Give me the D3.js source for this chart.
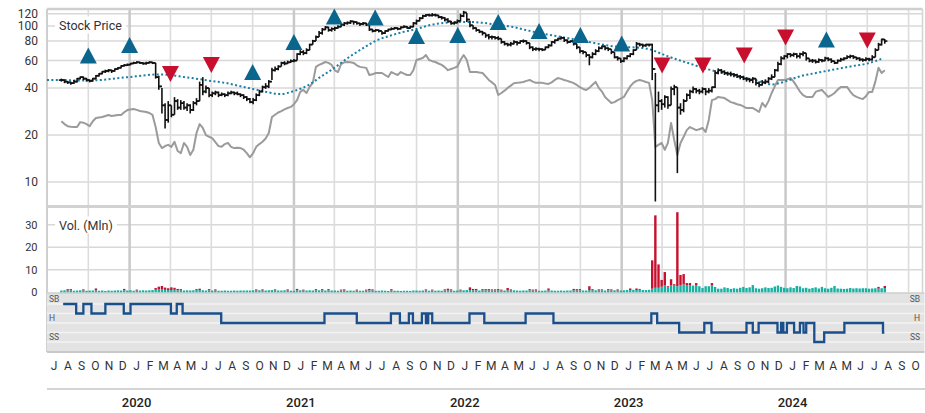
<!DOCTYPE html>
<html><head><meta charset="utf-8">
<script src="https://cdn.jsdelivr.net/npm/d3@7"></script>
<style>
body{margin:0;background:#fff;}
svg{display:block;font-family:Roboto,"Liberation Sans",sans-serif;}
</style></head><body>
<svg id="c" width="925" height="413"></svg>
<script>
// ---------------- DATA ----------------
const firstWeek = "2019-08-02"; // weekly bars, one every 7 days
const closeP = [
45,44,43.5,43,44,46,47,46,45,44.5,
46,48,49.5,51,51.5,52,51.5,53,54,55.5,
56,56.5,57.5,58,58.5,58,57.5,58,58.5,58,
47,41,31,25,31,27,33,30,32,30,
31,29,32,33,42,38,40,36,37,37.5,
36,36.5,36,37,37.5,37,36.5,36,35,34,
32.5,33.5,36,38,40.5,41,44,52,53,55,
58,57.5,58.5,59.5,60,66,68,67,70,76,
80,85,90,95,98,94,96,97,99,102,
104,105,107,106,104,103,104,102,95,93,
94,93,90,93,95,96,97,96,98,99,
97,99,104,108,112,116,118,117,118,117,
114,113,110,107,104,105,108,116,122,110,
101,97,94,92,90,87,85,85,84,83,
79,77,76,77,79,78,80,80,78,73,
71,71.5,71,70.5,73,75,79,81,83,84,
81,79,80,77,73,69,68,65,63,66,
69,72,74,72,71,68,63,62,59.5,62,
64,66,70,77,76,75,76,76,53,31,
33,31.5,35,31,39.5,40.5,30,29,33,36,
38,39.5,38.5,38,39.5,38,38.5,40.5,50,52,
51,50,49.5,49,48.5,47.5,47,46,45.5,45,
46,43,42,43.5,44,46,47,52,57,62,
64,66,65,66,64,66,67,62,60,60,
59,60.5,60,62,61,59.5,58,60,61,62,
63.5,64,63,62,61,60.5,61.5,61,63,70,
76,82,80];
const highP = [
46,45.5,44.5,44,45,46.5,47.5,47.5,46.5,45.5,
46.5,48.5,50,51.5,52.5,53,52.5,53.5,54.5,56,
57,57.5,58,59,59.5,59,58.5,59,59.5,59,
58,48,40,32,33,31,35,34,33.5,33,
32,31.5,33,34.5,44,47,41.5,40,38,38.5,
38,37.5,37,38,38.5,38,38,37,36.5,35.5,
34.5,34.5,37,39,41.5,43,45,54,55,56,
59,59.5,60,61,61.5,67,70,70,72,77,
81.5,87,93,97,100,99,98,99,101,103,
106,107,109,108,107,105,106,105,103,96,
95.5,95,93,94,96,98,98.5,98,99.5,101,
100,100.5,106,110,114,118,119.5,120,121,120,
118,116,114,112,108,107,110,120,125,121,
108,101,98,95,93,90,89,87,86,86,
83,80,78,79,81,80,81,82,81,78,
74,73,72.5,72,74,76.5,80,82,84,86,
85,82,81,80,77,73,70,68,66,68,
71,74,75,75,73,71,68,64,62,63,
65,67,71,79,78,77,77,77,77,50,
38,34,36,35.5,41,42,40.5,32,34,37,
39,41,40,39.5,40.5,40,40,41,52,53.5,
53,52,51,51,50,49.5,48.5,48,47,46.5,
47,46,44,45,45.5,47,49,53,59,64,
65,67,67,67.5,67,67.5,69,67,62,61.5,
61,62,61.5,63.5,63,62,60,61,62.5,63,
65,65.5,65,63.5,63,62,63,62.5,65,72,
78,83,82.5];
const lowP = [
44,43,42.5,42,42.5,43.5,45.5,45,44,43.5,
44,45.5,47.5,49,50,50.5,50,51,52.5,53.5,
55,55.5,56,57,57.5,57,56.5,56.5,57.5,57,
46,39,27.5,22,24,26,27,29,29,29,
28.5,27.5,28.5,31,33,36,37,35,35,36,
35,35.5,35,35.5,36.5,36,36,35,34,33,
32,31.5,33,35.5,37.5,39.5,40,45,51,52,
55,56,57,58,58.5,60,65,65,66,70,
76,80,85,88,94,92,92,93,96,98,
100,102,103,102,102,100,101,100,93,91,
92,91,88,89,92,94,95,94,95,97,
96,96,98,102,107,111,114,115,115,115,
112,110,107,105,102,102,104,107,114,106,
98,95,92,90,87,84,82,82,82,81,
77,75,74,74,76,75,77,78,76,71,
69,69.5,69,69,70,72,74,77,80,82,
79,77,78,75,71,67,66,63,56,62,
65,68,71,70,69,66,62,60,58,58.5,
61,63,65,70,74,73,73.5,74,45,7.5,
28,29,30,29.5,31,36,11.4,27,28,33,
34,37,37,36.5,37,36,37,37.5,40,49,
49.5,48.5,48,47.5,47,46.5,45.5,45,44,43.5,
43,41.5,40.5,41.5,42.5,43,45,47,51,56,
61,62,63,63.5,62,62,64,60,58.5,58,
57.5,58,58.5,59.5,59.5,58,57,57.5,59,60,
61.5,62,61.5,60.5,59.5,59,59.5,59.5,60,63,
70,75,77];
const relativeLine = [
24.5,23.5,22.8,22.6,22.5,22.5,24.2,24,23.5,22.8,
24.5,25.7,25.9,26.1,26.5,26.9,26.5,26.7,26.9,26.9,
28,28.9,29.2,29.4,29,28.5,28.3,28.1,27.7,26.9,
22.5,17.8,16.5,17,17.3,16.8,18.1,15.8,15.3,17.8,
16.8,14.9,16.1,20.6,23.5,22.2,20,19.5,19.1,18,
17,16.8,17.5,17.8,16.8,16.5,16.6,16.5,16.1,15.3,
14.4,15.3,16.8,17.5,18.1,19,20.6,26.1,27,27.9,
28.5,29.2,29.8,30.3,31.5,33.5,37.8,38.9,37.2,40.7,
43.2,54.7,56.3,57.5,58.8,58,56.3,52,50.7,57,
58.5,58.8,58.5,58,56,54.7,54.3,53.9,48.5,49,
50,50,50,48.5,47.1,50.7,49.5,48.5,50.7,49.5,
48.5,48.5,52.1,60.5,61.5,62.4,65.2,60.5,59.5,58.8,
57.5,56.3,54.5,52.1,53,53.9,55,60.5,65.2,60.5,
50.7,50.7,50.7,50.3,50,47.5,45.1,43.5,41.9,36.1,
37.2,38.5,40.1,41.5,43,43.2,43.5,43.8,44.5,45.1,
44,43.2,43.2,43.2,42.8,42.5,43.5,45.1,46.4,45.8,
45.1,44.5,43.8,43,41.9,40.5,39.5,38.9,40.1,42,
43.8,40.1,38,35.1,33.5,32.1,32.5,33.5,34.2,35.1,
38,41,43.2,44.5,45.1,44.5,43.8,43.2,33.5,16.8,
17.3,17.8,16.1,17.8,23.9,18.6,14.9,17.8,19.5,21.5,
22.5,22,21.5,21.8,22.2,20.9,25,33.5,34,35.1,
34.8,34.5,33.5,32.5,32.1,31.5,31.2,30.5,29.8,29.8,
29.8,29,28.1,32.1,30.3,33,37.2,41,45.1,45.1,
45.1,45.5,46.4,44,41,38,36,35.1,35.1,35.1,
37.8,38.5,38.9,37,35.1,36,37.2,39,40.7,40.7,
40.7,38,36,35.1,34.5,34,35.5,37.8,37.8,44,
54,50,52];
const volumeBase = [
0.8,0.9,0.8,0.9,0.7,0.8,0.9,0.8,0.7,0.8,
0.8,0.9,0.7,0.8,0.6,0.8,0.7,0.8,0.9,0.8,
0.9,0.8,0.9,0.7,0.8,0.8,0.9,0.8,0.9,1.0,
1.1,1.2,1.2,1.1,1.0,1.0,1.1,0.9,0.9,0.8,
0.9,0.8,0.9,1.0,1.0,0.9,0.8,0.9,0.8,0.8,
0.7,0.7,0.8,0.7,0.7,0.8,0.7,0.8,0.8,0.8,
0.8,0.9,0.8,0.9,0.8,0.8,0.9,1.0,0.9,0.8,
0.8,0.9,0.8,0.7,0.7,0.9,0.9,0.8,0.8,0.9,
0.8,0.9,0.9,0.9,0.8,0.9,0.8,0.8,0.7,0.8,
0.8,0.7,0.8,0.7,0.8,0.7,0.7,0.8,0.9,0.8,
0.7,0.7,0.8,0.7,0.6,0.8,0.7,0.7,0.6,0.7,
0.7,0.6,0.8,0.8,0.7,0.8,0.8,0.7,0.8,0.7,
0.8,0.7,0.8,0.9,0.8,0.7,0.8,0.8,0.9,1.0,
1.0,0.9,0.9,0.8,0.9,0.9,0.8,0.9,0.8,0.9,
0.8,0.8,0.9,0.8,0.9,0.8,0.7,0.8,0.8,0.9,
0.8,0.8,0.7,0.7,0.8,0.8,0.8,0.7,0.7,0.8,
0.7,0.8,0.8,0.9,0.8,0.9,0.8,0.8,1.0,0.9,
0.9,0.8,0.9,0.8,0.9,0.8,0.9,0.8,0.8,0.9,
1.0,1.0,1.1,1.0,1.1,1.0,1.0,1.1,1.6,2.0,
2.0,2.5,3.0,2.3,3.0,3.0,2.7,3.2,3.5,3.2,
3.2,3.0,3.2,2.7,1.9,2.7,2.7,3.2,2.4,1.6,
1.6,2.2,1.9,1.5,1.8,1.6,2.0,2.4,1.9,2.2,
3.2,1.8,1.6,1.8,2.2,1.9,2.0,2.6,3.0,2.4,
2.0,1.8,2.2,1.9,2.8,2.6,1.8,2.0,1.6,1.9,
2.2,1.7,2.4,1.8,1.6,2.0,2.8,1.7,1.6,1.5,
1.6,1.9,1.7,1.8,1.7,1.8,1.8,1.6,1.7,1.8,
1.6,1.8,1.9];
const volumeExtra = [
0,0,0.6,0.5,0,0,0,0.5,0,0,
0,0.8,0,0,0,0,0,0,0,0,
0.6,0,0,0,0.4,0,0,0,0,0,
0.8,1.3,1.6,1.0,0.8,1.2,0.9,0.6,0.5,0,
0,0,0,0.4,0.6,0,0,0.5,0,0.5,
0,0,0,0,0,0,0,0,0,0,
0,0,0.5,0,0.5,0,0,0,0.4,0,
0,0,0.5,0,0,0.6,0,0.4,0,0,
0,0.5,0,0.5,0,0.5,0,0,0,0.4,
0.5,0,0,0,0.4,0,0,0.4,0.6,0.5,
0,0,0,0,0,0.6,0,0,0,0,
0,0,0,0,0,0,0.5,0,0.4,0,
0,0,0.5,0.7,0.5,0,0,0.4,0,0,
1.2,0.6,0.6,0,0.5,0.5,0.6,0.4,0.5,0.5,
0.4,0,1.0,0.5,0,0,0,0,0,0.5,
0.4,0.5,0,0,0,0.9,0,0,0,0,
0,0,0,0.6,0.6,0.5,0,0,1.7,0.5,
0,0.5,0.4,0,0.5,0.5,0,0.5,0,0,
0,0.7,0,0.7,0.4,0,0,0,12.6,32.2,
10.4,3.0,6.0,0.4,2.8,0.6,32.9,4.5,4.6,0.9,
0.9,0,0.9,0,0,0,0,0.9,0,0,
0,0,0,0,0,0,0,0,0,0,
0,0,0,0,0,0,0,0,0,0,
0,0,0,0,0,0,0,0,0,0,
0,0,0,0,0,0,0,0,0,0,
0,0,0,0,0,0,0,0,0,0,
0.8,0,0.9];
// moving average, read at each month start from 2019-07
const maStart = "2019-07-01";
const movingAvg = [
45.1,45.1,44.8,44.8,45.1,46.2,
47.1,48.2,48.9,48.5,47.1,45.8,44.4,43.2,41.3,39.5,37.8,36.6,
38.3,41.6,47.1,53.9,62.4,71.2,80.1,86.3,91.5,95.7,101.5,104.5,
106.1,106,104.5,101.5,99,94.3,90.2,87,83.8,80.8,77.8,75,
73.3,72.8,71.3,66.1,61.4,57.5,53.9,51.1,48.9,46.7,44.4,42.2,
44.2,47.5,49.5,51.5,53.5,55.5,57.5,61.4];
// quarterly signals
const signalDates = ["2019-10-01","2020-01-01","2020-04-01","2020-07-01","2020-10-01","2021-01-01","2021-04-01","2021-07-01","2021-10-01","2022-01-01","2022-04-01","2022-07-01","2022-10-01","2023-01-01","2023-04-01","2023-07-01","2023-10-01","2024-01-01","2024-04-01","2024-07-01"];
const signalDir = ["up","up","down","down","up","up","up","up","up","up","up","up","up","up","down","down","down","down","up","down"];
const signalLevel = [64.7,75.5,49.2,56.3,50.7,78.9,115,113.4,86.3,87.5,106.1,92.9,87.5,77.3,55.8,55.8,64.7,84.3,81.8,80.7];
// rating history (1=SB,2=B,3=H,4=S,5=SS)
const ratingDates = ["2019-08-06","2019-09-04","2019-09-20","2019-10-08","2019-11-08","2019-12-19","2020-01-03","2020-04-02","2020-04-15","2020-04-28","2020-07-23","2021-03-10","2021-05-21","2021-08-05","2021-08-25","2021-09-14","2021-09-23","2021-10-13","2021-10-22","2021-10-27","2021-11-05","2022-01-27","2022-03-01","2022-06-01","2022-08-02","2023-03-08","2023-03-21","2023-05-09","2023-07-04","2023-07-20","2023-10-06","2023-10-20","2023-11-02","2023-12-14","2023-12-22","2023-12-27","2024-01-04","2024-01-20","2024-02-02","2024-02-10","2024-02-16","2024-03-05","2024-03-27","2024-05-11","2024-08-05","2024-08-08"];
const ratingLevels = [1,2,1,2,1,2,1,2,1,2,3,2,3,2,3,2,3,2,3,2,3,2,3,2,3,2,3,4,3,4,3,4,3,4,3,4,3,4,3,4,3,5,4,3,4,4];
const ratingNames = ["SB","B","H","S","SS"];
const ratingShown = ["SB","H","SS"];
const priceTicks = [10,20,40,60,80,100,120];
const volumeTicks = [0,10,20,30];
const monthLetters = ["J","F","M","A","M","J","J","A","S","O","N","D"];

// ---------------- CHART ----------------
const svg = d3.select("#c");
const P = d3.timeParse("%Y-%m-%d");
const wk0 = P(firstWeek);
const wDate = i => d3.timeDay.offset(wk0, 7*i);
const x = d3.scaleTime().domain([P("2019-07-01"), P("2024-11-01")]).range([47, 922.5]);
const yP = d3.scaleLog().domain([10,100]).range([182,26]);
const yV = d3.scaleLinear().domain([0,30]).range([292.3,224.8]);
const yR = d3.scaleLinear().domain([1,5]).range([304,342]);
const L = 47, R = 922.5, PT = 9, PB = 205, VT = 208, VB = 293, RT = 293, RB = 352;

const grid = svg.append("g");
grid.selectAll(".hp").data(priceTicks).join("line")
  .attr("x1",L).attr("x2",R).attr("y1",d=>yP(d)).attr("y2",d=>yP(d))
  .attr("stroke","#d8d8d8").attr("stroke-width",1.5);
grid.selectAll(".hv").data(volumeTicks.slice(1)).join("line")
  .attr("x1",L).attr("x2",R).attr("y1",d=>yV(d)).attr("y2",d=>yV(d))
  .attr("stroke","#d8d8d8").attr("stroke-width",1.5);
const quarters = d3.timeMonth.every(3).range(P("2019-10-01"), P("2024-11-01"));
grid.selectAll(".vq").data(quarters).join("line")
  .attr("x1",d=>x(d)).attr("x2",d=>x(d)).attr("y1",PT).attr("y2",VB)
  .attr("stroke",d=>d.getMonth()===0?"#c9c9c9":"#dcdcdc")
  .attr("stroke-width",d=>d.getMonth()===0?2.5:1.6);
grid.append("line").attr("x1",L).attr("x2",R).attr("y1",PT).attr("y2",PT).attr("stroke","#cfcfcf").attr("stroke-width",2.5);
grid.append("line").attr("x1",L).attr("x2",L).attr("y1",PT).attr("y2",RB).attr("stroke","#cfcfcf").attr("stroke-width",2);
grid.append("line").attr("x1",R).attr("x2",R).attr("y1",PT).attr("y2",VB).attr("stroke","#d6d6d6").attr("stroke-width",1.6);
grid.append("line").attr("x1",L).attr("x2",R).attr("y1",206.5).attr("y2",206.5).attr("stroke","#d2d2d2").attr("stroke-width",3);

// rating panel
const rp = svg.append("g");
rp.append("rect").attr("x",L).attr("y",RT).attr("width",R-L+2).attr("height",RB-RT).attr("fill","#e3e3e3");
rp.selectAll(".rl").data([1,2,3,4,5]).join("line")
  .attr("x1",L).attr("x2",R+2).attr("y1",d=>yR(d)).attr("y2",d=>yR(d))
  .attr("stroke","#f3f3f3").attr("stroke-width",1.3);
rp.append("line").attr("x1",L).attr("x2",R+2).attr("y1",RT).attr("y2",RT).attr("stroke","#cfcfcf").attr("stroke-width",1.5);
rp.append("line").attr("x1",L).attr("x2",R+2).attr("y1",RB).attr("y2",RB).attr("stroke","#c8c8c8").attr("stroke-width",2);
ratingShown.forEach(n=>{
  const lv = ratingNames.indexOf(n)+1;
  rp.append("text").attr("x",49).attr("y",yR(lv)-2).text(n)
    .attr("font-size",8.5).attr("fill","#555");
  rp.append("text").attr("x",920).attr("y",yR(lv)-2).text(n).attr("text-anchor","end")
    .attr("font-size",8.5).attr("fill","#555");
});
const rPts = ratingDates.map((d,i)=>[x(P(d)), yR(ratingLevels[i])]);
rp.append("path").attr("d", d3.line().curve(d3.curveStepAfter)(rPts))
  .attr("fill","none").attr("stroke","#1a4f8c").attr("stroke-width",2.3);

// volume bars
const vb = svg.append("g");
volumeBase.forEach((v,i)=>{
  const cx = x(wDate(i));
  vb.append("rect").attr("x",cx-1.2).attr("width",2.4)
    .attr("y",yV(v)).attr("height",yV(0)-yV(v)).attr("fill","#16b1a2");
  if (volumeExtra[i]>0) {
    vb.append("rect").attr("x",cx-1.2).attr("width",2.4)
      .attr("y",yV(v+volumeExtra[i])).attr("height",yV(v)-yV(v+volumeExtra[i])).attr("fill","#c8102e");
  }
});

// relative gray line
svg.append("path").attr("d", d3.line().x((d,i)=>x(wDate(i))).y(d=>yP(d))(relativeLine))
  .attr("fill","none").attr("stroke","#9b9b9b").attr("stroke-width",2).attr("stroke-linejoin","round");

// moving average dotted
const ma0 = P(maStart);
svg.append("path").attr("d", d3.line().x((d,i)=>x(d3.timeMonth.offset(ma0,i))).y(d=>yP(d)).curve(d3.curveMonotoneX)(movingAvg))
  .attr("fill","none").attr("stroke","#1b7fa5").attr("stroke-width",2).attr("stroke-dasharray","2,2.4");

// OHLC bars (open = previous close)
const ob = svg.append("g").attr("stroke","#111").attr("stroke-width",1.6);
closeP.forEach((c,i)=>{
  const cx = x(wDate(i));
  const o = i>0 ? closeP[i-1] : c;
  ob.append("line").attr("x1",cx).attr("x2",cx).attr("y1",yP(highP[i])).attr("y2",yP(lowP[i]));
  ob.append("line").attr("x1",cx-2.6).attr("x2",cx).attr("y1",yP(o)).attr("y2",yP(o));
  ob.append("line").attr("x1",cx).attr("x2",cx+2.6).attr("y1",yP(c)).attr("y2",yP(c));
});

// signals
const sg = svg.append("g");
signalDates.forEach((d,i)=>{
  const cx = x(P(d)), cy = yP(signalLevel[i]);
  const up = signalDir[i]==="up";
  const p = up ? `M${cx-8.5},${cy+8}L${cx+8.5},${cy+8}L${cx},${cy-8}Z`
               : `M${cx-8.5},${cy-8}L${cx+8.5},${cy-8}L${cx},${cy+8}Z`;
  sg.append("path").attr("d",p).attr("fill", up ? "#0b668d" : "#c8102e");
});

// labels in panels
function boxLabel(txt, lx, ly){
  const t = svg.append("text").attr("x",lx).attr("y",ly).text(txt).attr("font-size",12.5).attr("fill","#333");
  const bb = t.node().getBBox();
  svg.insert("rect", () => t.node()).attr("x",bb.x-4).attr("y",bb.y-1).attr("width",bb.width+8).attr("height",bb.height+2).attr("fill","#fff");
}
boxLabel("Stock Price", 59, 29.5);
boxLabel("Vol. (Mln)", 59, 229.5);

// y axis labels
svg.selectAll(".pt").data(priceTicks).join("text")
  .attr("x",38).attr("y",d=>yP(d)).attr("dy","0.35em").attr("text-anchor","end")
  .attr("font-size",12).attr("fill","#333").text(d=>d);
svg.selectAll(".vt").data(volumeTicks).join("text")
  .attr("x",37.5).attr("y",d=>yV(d)).attr("dy","0.36em").attr("text-anchor","end")
  .attr("font-size",11).attr("fill","#333").text(d=>d);

// x axis: month letters
const months = d3.timeMonth.range(P("2019-07-01"), P("2024-11-01"));
svg.selectAll(".ml").data(months).join("text")
  .attr("x",d=>(x(d)+x(d3.timeMonth.offset(d,1)))/2).attr("y",370)
  .attr("text-anchor","middle").attr("font-size",12).attr("fill","#333")
  .text(d=>monthLetters[d.getMonth()]);
svg.append("line").attr("x1",L).attr("x2",925).attr("y1",389).attr("y2",389).attr("stroke","#d4d4d4").attr("stroke-width",2);
const years = d3.timeYear.range(P("2020-01-01"), P("2024-12-31"));
svg.selectAll(".yl").data(years).join("text")
  .attr("x",d=>(x(d)+x(d3.timeMonth.offset(d,1)))/2).attr("y",407)
  .attr("text-anchor","middle").attr("font-size",13).attr("font-weight",500).attr("fill","#222")
  .text(d=>d.getFullYear());
</script>
</body></html>
